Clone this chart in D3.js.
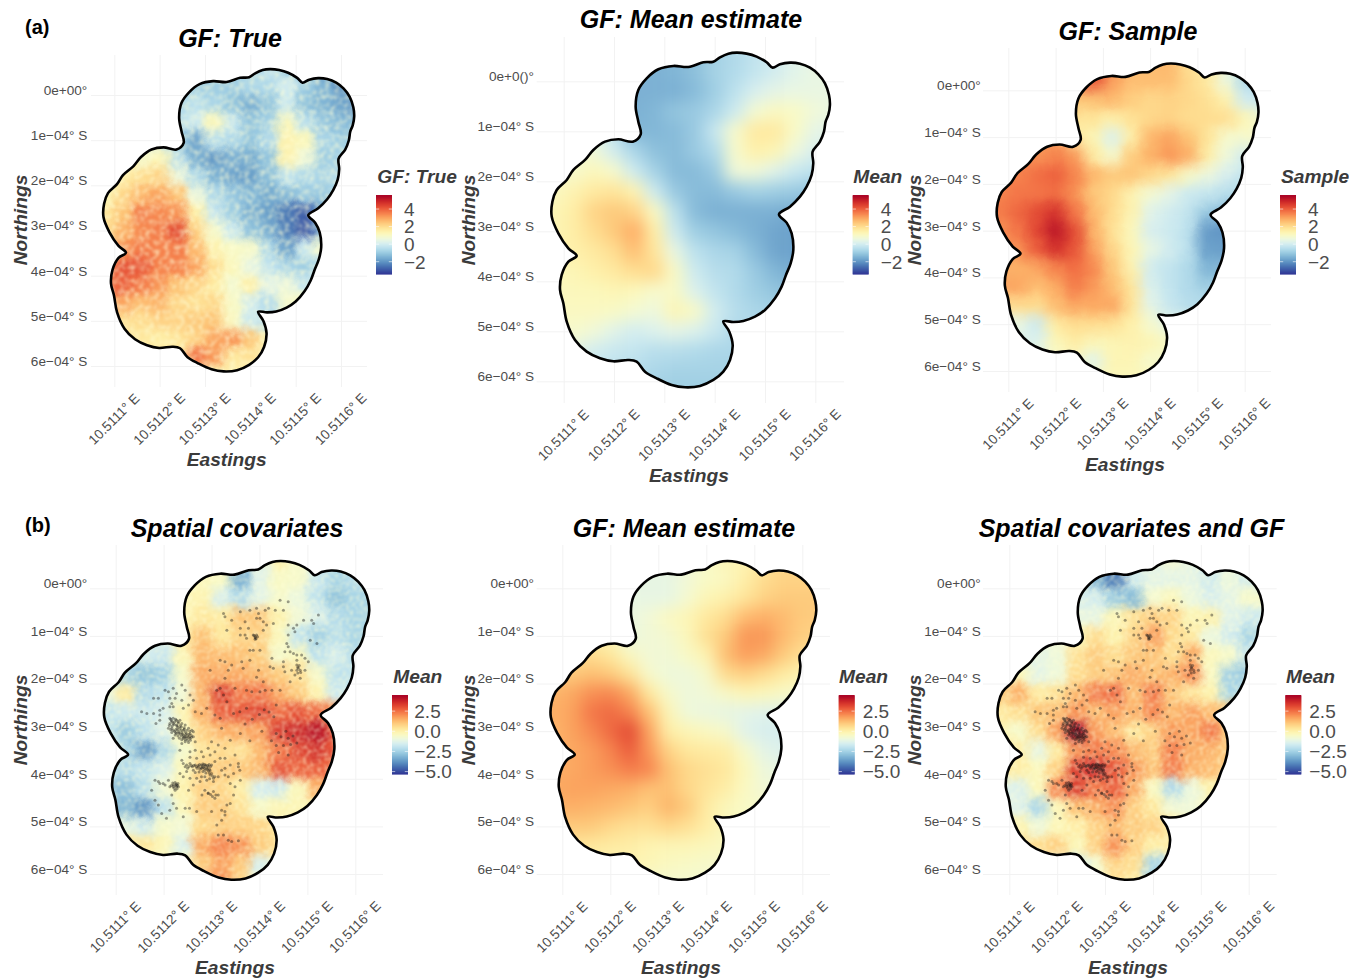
<!DOCTYPE html>
<html>
<head>
<meta charset="utf-8">
<script src="https://cdn.jsdelivr.net/npm/d3@7"></script>
<style>
body { margin: 0; background: #fff; }
svg text { font-family: "Liberation Sans", Arial, sans-serif; }
</style>
</head>
<body>
<script>
// all positions in units of 1e-4 degrees: lon = 10.511 + x*1e-4, lat = y*1e-4 S
var lonTicks = [1, 2, 3, 4, 5, 6];
var lonLabels = ["10.5111° E", "10.5112° E", "10.5113° E", "10.5114° E", "10.5115° E", "10.5116° E"];
var latTicks = [0, 1, 2, 3, 4, 5, 6];
var latLabels = ["0e+00°", "1e−04° S", "2e−04° S", "3e−04° S", "4e−04° S", "5e−04° S", "6e−04° S"];
var latLabelsGlitch = ["0e+0()°", "1e−04° S", "2e−04° S", "3e−04° S", "4e−04° S", "5e−04° S", "6e−04° S"];

var rangeA = [-3.4, 5.6];
var rangeB = [-5.3, 4.5];
var legendTicksA = [4, 2, 0, -2];
var legendLabelsA = ["4", "2", "0", "−2"];
var legendTicksB = [2.5, 0, -2.5, -5];
var legendLabelsB = ["2.5", "0.0", "−2.5", "−5.0"];

var boundary = [[3.974,-0.393],[4.106,-0.48],[4.272,-0.553],[4.437,-0.573],[4.636,-0.553],[4.834,-0.493],[5.033,-0.38],[5.152,-0.273],[5.298,-0.34],[5.497,-0.373],[5.695,-0.353],[5.894,-0.273],[6.06,-0.14],[6.192,0.04],[6.272,0.273],[6.291,0.473],[6.258,0.673],[6.205,0.807],[6.172,1.007],[6.093,1.207],[5.947,1.407],[5.96,1.64],[5.927,1.873],[5.828,2.107],[5.695,2.307],[5.497,2.507],[5.278,2.66],[5.43,2.827],[5.53,3.04],[5.563,3.373],[5.51,3.64],[5.417,3.873],[5.331,4.107],[5.199,4.34],[5.0,4.573],[4.801,4.707],[4.57,4.793],[4.371,4.813],[4.172,4.8],[4.291,5.007],[4.358,5.273],[4.305,5.573],[4.172,5.807],[3.974,5.973],[3.709,6.093],[3.411,6.12],[3.146,6.073],[2.848,5.94],[2.616,5.807],[2.45,5.607],[2.285,5.573],[1.987,5.6],[1.722,5.54],[1.457,5.407],[1.225,5.173],[1.06,4.807],[0.993,4.44],[0.927,4.173],[0.96,3.873],[1.093,3.607],[1.258,3.493],[1.093,3.34],[0.894,3.04],[0.762,2.707],[0.775,2.407],[0.861,2.173],[1.06,1.973],[1.192,1.773],[1.424,1.573],[1.589,1.373],[1.821,1.207],[2.086,1.16],[2.371,1.207],[2.53,1.06],[2.483,0.807],[2.43,0.507],[2.483,0.173],[2.649,-0.06],[2.881,-0.24],[3.179,-0.307],[3.477,-0.287],[3.775,-0.38]];

// raster cell centres
var gridLon = [0.8, 1.2, 1.6, 2.0, 2.4, 2.8, 3.2, 3.6, 4.0, 4.4, 4.8, 5.2, 5.6, 6.0, 6.4];
var gridLat = [-0.6, -0.2, 0.2, 0.6, 1.0, 1.4, 1.8, 2.2, 2.6, 3.0, 3.4, 3.8, 4.2, 4.6, 5.0, 5.4, 5.8, 6.2];

var gfTrue = [
 [-1,-1,-1,-1,-1,-1,-1,-1,-.8,-.3,-.9,-1.5,-2,-1.8,-1.8],
 [-1,-1,-1,-1,-.7,-.9,-.9,-.9,-.7,-.6,0,-.9,-1.4,-2,-1.8],
 [-1,-1,-1,-.7,-.7,-.4,-.7,-1.1,-1.5,-1.1,-.1,-1.1,-1.4,-1.7,-2.1],
 [0,0,0,-.4,-.4,-.1,1.2,-.2,-1.1,-.8,1.2,-.4,-1,-1.3,-1.3],
 [1,1,.8,-.4,-.9,-1.7,-.4,-.6,-1.1,-.6,1.4,1.2,-.7,-.9,-.9],
 [1.3,1.5,.9,1.3,-.5,-1.5,-1.9,-1.5,-1.6,-1.1,1.4,.7,-.9,-.8,-.8],
 [1.4,1.6,2,2.2,.6,-.6,-1.4,-1.7,-1.8,-1.2,-.3,-.6,-.7,-.4,-.4],
 [1.3,2.1,2.7,3,2.5,.6,-.6,-1,-1.3,-1.6,-1.3,-1,-1,-.7,-.7],
 [1.8,2.5,3.6,3.4,3.3,1.5,-.2,-.9,-1.5,-1.8,-2.4,-2.8,-1.9,-1.4,-1.4],
 [2,2.8,3.4,3.6,4.3,2.2,.9,-.1,-1.1,-1.5,-2.3,-2.9,-1.1,-1.1,-1.1],
 [3,3.3,3.6,3.5,3.6,2.7,1.4,1,.9,-.6,-1.7,-.2,.8,.8,.8],
 [3.3,4.2,4.1,3.5,3.5,3,2,1.2,.5,-.3,-.7,-.9,-.2,-.2,-.2],
 [3.8,4,3.6,3.2,2.5,2.2,1.6,.8,1.5,.4,.6,-.2,-.2,-.2,-.2],
 [3,3,2.6,2.8,2.1,1.9,2.1,1,0,-.5,.9,1,1,1,1],
 [1.9,1.9,2,2.2,2.2,2.4,2.5,1.1,-.1,-.4,-.2,.6,.6,.6,.6],
 [1.7,1.7,1.7,1.6,1.8,2.2,3,3.2,2.4,1.4,1.1,1.1,1.1,1.1,1.1],
 [1.6,1.6,1.6,1.6,1.6,3.7,3.2,1.7,1.9,1.5,1.5,1.5,1.5,1.5,1.5],
 [1.4,1.4,1.4,1.4,1.4,1.4,1.4,1.4,1.4,1.4,1.4,1.4,1.4,1.4,1.4]
];

var gfMeanA = [
 [-.8,-.8,-.8,-.8,-1.3,-1.4,-1.4,-1.2,-.8,-.6,-.3,0,.3,.5,.5],
 [-.8,-.8,-.8,-.8,-1.4,-1.5,-1.4,-1.2,-.8,-.6,-.3,0,.3,.5,.5],
 [-.8,-.8,-.8,-1.5,-1.5,-1.5,-1.5,-1.3,-.9,-.4,.1,.4,.5,.5,.5],
 [-.8,-.8,-.8,-1.5,-1.5,-1.4,-1.1,-1,-.7,-.1,.8,1.1,1,.7,.5],
 [.4,.4,.4,-.4,-1.4,-1.4,-1.3,-1,-.2,.9,1.7,1.7,1,.4,.3],
 [.9,.9,.7,0,-.7,-1.2,-1.3,-1,-.6,.9,1.5,1.3,.6,.1,.1],
 [.9,.9,1.2,.9,-.1,-.8,-1.3,-1.3,-1,.7,.7,.3,-.2,-.4,-.4],
 [1.1,1.4,1.7,1.8,1.4,-.1,-1,-1.3,-1.3,-1,-.8,-.9,-1,-1.1,-1.1],
 [1.3,1.6,2.2,2.4,2.2,1.1,-.4,-1.3,-1.5,-1.5,-1.5,-1.5,-1.6,-1.6,-1.6],
 [1.3,1.6,2,2.4,2.9,1.6,-.1,-.9,-1.1,-1.3,-1.5,-1.7,-1.8,-1.8,-1.8],
 [1.4,1.5,1.7,2,2.6,1.8,.5,-.4,-.7,-.8,-1.3,-1.7,-1.8,-1.8,-1.8],
 [1.2,1.3,1.5,1.7,2,2.1,1,-.1,-.5,-.6,-1,-1.4,-1.6,-1.6,-1.6],
 [1.1,1.2,1.2,1.3,1.2,.9,1,.2,-.3,-.6,-.9,-1.1,-1.2,-1.2,-1.2],
 [1.1,1.1,1.1,1,.8,.6,1.3,1,0,-.5,-.7,-.8,-.8,-.8,-.8],
 [.9,.9,.7,.3,0,.2,.4,.2,-.2,-.6,-.7,-.7,-.7,-.7,-.7],
 [.4,.4,0,-.2,-.3,-.5,-.5,-.6,-.7,-.7,-.7,-.7,-.7,-.7,-.7],
 [-.3,-.3,-.3,-.4,-.5,-.7,-.8,-.8,-.8,-.8,-.8,-.8,-.8,-.8,-.8],
 [-.9,-.9,-.9,-.9,-.9,-.9,-.9,-.9,-.9,-.9,-.9,-.9,-.9,-.9,-.9]
];

var gfSample = [
 [3,3,3,3,3.8,4.2,3.2,2.6,2.6,2.7,2,1.5,.6,-.6,-.6],
 [3,3,3,3,3.5,4.2,3.1,2.6,2.6,2.6,2.1,1.7,.6,-.6,-.6],
 [3,3,3,3,2.5,2.5,2.7,2.3,2.1,2.2,2.1,1.9,1.4,0,-.2],
 [2,2,2,2,1.8,1.8,1.5,1.9,2.1,2.2,2,2,2,1.3,.8],
 [3,3,3,3,1.6,1.3,.2,1.5,2.7,3,2.5,1.8,.9,.9,.9],
 [3.3,3.3,3.3,3.5,3.2,1.6,.9,2.3,2.8,3.2,2.9,1.6,.7,0,0],
 [3.5,3.5,3.8,4,3.5,2.7,2.4,2.5,2.1,1.8,1,.6,.1,-.3,-.3],
 [3.5,3.7,3.7,3.8,3.3,2.4,2.1,1.4,.8,.4,-.1,-.2,-.5,-.5,-.5],
 [3.6,3.9,4.3,4.7,3.7,2.7,2,1.4,.3,0,-.3,-1,-1.2,-1.2,-1.2],
 [3.3,3.7,4.4,5.2,4.3,2.8,1.9,1.2,.1,-.1,-.4,-1.9,-2,-2,-2],
 [3.3,3.3,4,4.7,4.2,3.1,2.1,1.3,.5,0,-.4,-1.8,-1.8,-1.8,-1.8],
 [2.8,2.8,3,3.5,3.8,3.4,2.4,1.4,0,-.3,-.6,-1.4,-1.4,-1.4,-1.4],
 [3,3,2.6,2.9,3.6,3.2,2.6,1.8,.2,-.3,-.6,-.9,-.9,-.9,-.9],
 [2,2,2,2.6,3,2.9,3,1.8,.4,-.2,-.5,-.5,-.5,-.5,-.5],
 [.5,.5,-.1,1.6,2,2,1.9,1.5,.9,.4,.4,.4,.4,.4,.4],
 [.2,.2,.2,1.2,1.6,1.2,1.3,1.4,1.3,1,1,1,1,1,1],
 [.9,.9,.9,.9,.9,.3,1.3,1.3,.9,.9,.9,.9,.9,.9,.9],
 [1.2,1.2,1.2,1.2,1.2,1.2,1.2,1.2,1.2,1.2,1.2,1.2,1.2,1.2,1.2]
];

var covariates = [
 [-1,-1,-1,-1,-.5,-.3,-.3,-3,-1.3,0,-.6,-1.8,-2.3,-2,-2],
 [-1,-1,-1,-.5,-.3,-.3,-.5,-3.2,-1.3,-.5,-.6,-1.8,-2.4,-2.2,-2.2],
 [-1,-1,-1,-.5,-.2,-.1,-1.5,-2.2,-1.2,-.6,-1,-2,-2.8,-2.4,-2.4],
 [-1,-1,-1,-.5,-.2,.3,.2,1.1,1.1,0,-.8,-1.4,-2.2,-2.4,-2.4],
 [-1.4,-1.4,-1.4,-1.2,.3,1.2,.3,.8,.9,-.3,-1.9,-2.5,-2.1,-2.4,-2.4],
 [-1.8,-1.8,-1.6,-1.8,-.2,1.4,1.3,1.2,1,-.6,-.3,-2,-1.5,-2.2,-2.2],
 [-2.2,-2.4,-2.8,-2.5,-.6,1.6,1.6,1.6,1.4,1,.6,-.6,-2,-2,-2],
 [-1,.2,-2.2,-2,-.8,1.4,3.3,2.4,2.5,1.7,1,-.1,-1.7,-1.7,-1.7],
 [-1.9,-1.7,-1.8,-1.5,-.1,1.5,2.8,3,3.2,2.6,3,2.6,2,2,2],
 [-1.9,-2.6,-2,-1.3,-.3,.9,1.5,1.6,1.8,3.4,3.7,4.1,3,3,3],
 [-2.2,-2.4,-3.6,-2.3,-.6,.4,.7,.5,1.4,2.4,3.2,3.5,3,3,3],
 [-2.2,-2.2,-1.9,-1.4,-.3,.8,1,1.1,1.4,3,2.7,2.8,2.6,2.6,2.6],
 [-2.9,-2.9,-2.1,-.8,0,.9,.8,.1,-1.5,-1.7,-.3,1.5,1.5,1.5,1.5],
 [-3.1,-3.1,-3.7,-2,-.3,1,1,.5,-.6,-.2,-.2,-.2,-.2,-.2,-.2],
 [-1.1,-1.1,-1.7,-.6,-.8,.7,1,.9,.8,.3,.3,.3,.3,.3,.3],
 [.3,.3,.3,-.2,-1.4,1.6,2.2,2,1,.5,.5,.5,.5,.5,.5],
 [-.5,-.5,-.5,-.5,-.5,1,1.8,1.1,-1.5,-.8,-.8,-.8,-.8,-.8,-.8],
 [1,1,1,1,1,2.1,2.1,.7,-.8,-.8,-.8,-.8,-.8,-.8,-.8]
];

var gfMeanB = [
 [-1.1,-1.1,-1.1,-1.1,-1.1,-1.1,-1.1,-.8,-.5,-.2,-.1,.3,.8,.8,.8],
 [-1.1,-1.1,-1.1,-1.1,-1.1,-1.1,-1.1,-.8,-.5,-.4,.1,.6,.8,.8,.8],
 [-1.1,-1.1,-1.1,-1.1,-1.1,-1.1,-1.1,-.7,-.2,0,.4,.8,1,1,1],
 [-1,-1,-1,-1,-1,-.8,-.4,-.2,.3,.6,1.3,1.5,1.3,1,1],
 [0,0,0,-.2,-1,-.8,-.7,-.3,.5,1,1.9,1.9,1.3,.9,.8],
 [.4,.5,.6,.3,-.4,-.8,-.8,-.5,-.1,1.2,1.8,1.6,1,.5,.5],
 [.9,1,1.2,1,.4,-.6,-.9,-.9,-.6,.6,.9,.6,.2,-.1,-.1],
 [1.4,1.6,2,2.1,1.6,.3,-.6,-.9,-.8,-.5,-.2,-.3,-.5,-.6,-.6],
 [1.5,1.7,2.4,2.6,2.2,1.2,-.2,-.9,-1,-1.1,-1.2,-1.3,-1.3,-1.3,-1.3],
 [1.4,1.7,2.1,2.6,3.1,1.7,.1,-.2,-.4,-.6,-1.3,-1.5,-1.5,-1.5,-1.5],
 [1.4,1.6,1.8,2.2,2.8,1.9,.8,.3,.2,.1,-.6,-1.2,-1.4,-1.4,-1.4],
 [1.5,1.6,1.8,2,2.3,2.2,1.2,.7,.5,.3,-.3,-.9,-1.1,-1.1,-1.1],
 [1.6,1.7,1.7,1.6,1.5,1.2,1.2,.7,.4,.1,-.4,-.8,-.8,-.8,-.8],
 [1.4,1.5,1.4,1.3,1.1,.9,1.4,1,.2,-.3,-.5,-.6,-.6,-.6,-.6],
 [1,1,1,.7,.5,.5,.7,.5,.1,-.3,-.4,-.4,-.4,-.4,-.4],
 [.4,.4,.3,.2,.1,-.1,-.2,-.2,-.3,-.4,-.4,-.4,-.4,-.4,-.4],
 [-.1,-.1,-.1,-.1,-.1,-.2,-.4,-.5,-.6,-.6,-.6,-.6,-.6,-.6,-.6],
 [-.7,-.7,-.7,-.7,-.7,-.7,-.7,-.7,-.7,-.7,-.7,-.7,-.7,-.7,-.7]
];

var covariatesGf = [
 [-1,-1,-1,-1,-1.5,-3.2,-3.9,-1.6,-1.2,-.8,-1.2,-1.7,-1,-1.7,-1.7],
 [-1,-1,-1,-1,-1.5,-3.3,-4.1,-1.7,-1.2,-1.2,-1.2,-1.7,-1,-1.7,-1.7],
 [-1,-1,-1,-1,-1.5,-1.6,-2.6,-3,-.7,-.3,-1,-1.5,-1.2,-.6,-.6],
 [-1,-1,-1,-1,-1.1,-1.1,-.2,.5,1,.8,-.2,0,-1.3,-1.7,-1.7],
 [-1,-1,-1,-.8,-.3,.6,0,.8,1.8,.7,.3,-1,-1.6,-2.4,-2.4],
 [-1.2,-1.2,-1.2,-.9,.5,1,.6,1.1,1.2,.6,1.6,-.3,-.6,-1.8,-1.8],
 [-.3,-.3,-1.2,-.9,.6,1,1.2,1.6,1.2,1.5,2.1,-.4,-2.5,-2.7,-2.7],
 [1,1.5,.2,.5,1.4,2.4,2.6,1.3,2.4,1.2,.4,0,-2.4,-2.4,-2.4],
 [.3,.5,1.1,1.3,2,1.3,1.8,1.5,2.2,1.4,1.8,1.3,1,1,1],
 [-.1,-.6,.6,1.8,4.3,1.9,1.3,.3,.9,1.9,1.7,2.4,1,1,1],
 [.1,.1,-1.1,.3,2,2.4,2.2,1.4,1,2.3,1.6,1.5,1,1,1],
 [.3,.1,-.3,.9,3.3,3.7,3,2,1.2,2.4,1.5,1.3,1,1,1],
 [-1.4,-1.4,-.3,2.2,3.3,2.4,2.8,1.6,-.4,-2.2,-1,0,0,0,0],
 [-1.3,-1.3,-2.3,-.2,1.2,1.6,2.1,.9,.3,-.8,-.9,-.5,-.5,-.5,-.5],
 [-.1,-.1,-.9,-.2,.1,.9,1.4,1,.9,.2,.2,.2,.2,.2,.2],
 [.6,.6,.6,.9,-.2,.9,2,.9,.1,.1,.1,.1,.1,.1,.1],
 [-1,-1,-1,-1,-1.6,-.7,.8,.6,-2.4,-2,-2,-2,-2,-2,-2],
 [-.3,-.3,-.3,-.3,-.3,-.3,.5,.2,-2,-2,-2,-2,-2,-2,-2]
];

var samplePoints = [
 [2.38,2.03],[2.2,2.1],[2.1,2.17],[2.03,2.14],[2.27,2.21],[2.45,2.14],[2.55,2.24],[1.89,2.31],[1.79,2.31],[2.13,2.31],[2.24,2.31],[2.38,2.35],[2.62,2.35],[1.99,2.52],[1.92,2.56],[1.54,2.59],[1.65,2.63],[1.79,2.63],[1.92,2.66],[1.84,2.84],[1.92,2.77],[2.17,2.42],[2.13,2.49],[2.2,2.49],[2.41,2.52],[2.52,2.45],[2.66,2.59],[2.9,2.52],[2.79,2.63],[3.07,2.66],[3.18,2.73],[3.21,2.94],[3.46,2.63],[3.59,2.59],[3.73,2.52],[3.32,2.38],[3.25,2.24],
 [2.13,2.73],[2.2,2.73],[2.27,2.77],[2.34,2.77],[2.13,2.84],[2.2,2.84],[2.27,2.87],[2.38,2.84],[2.45,2.87],[2.1,2.94],[2.17,2.94],[2.26,2.96],[2.34,2.94],[2.41,2.98],[2.52,2.94],[2.59,2.98],[2.17,3.03],[2.27,3.05],[2.34,3.06],[2.41,3.08],[2.48,3.05],[2.55,3.05],[2.62,3.01],[2.33,3.15],[2.41,3.15],[2.48,3.15],[2.55,3.15],[2.62,3.12],[2.45,3.22],[2.52,3.24],[2.38,3.26],[2.2,3.15],[2.66,3.22],
 [2.16,2.78],[2.23,2.8],[2.31,2.83],[2.18,2.89],[2.3,2.92],[2.37,2.91],[2.43,2.93],[2.23,3],[2.31,3.01],[2.38,3.03],[2.45,3.02],[2.51,3.1],[2.44,3.11],[2.37,3.1],[2.58,3.09],
 [2.15,2.75],[2.18,2.8],[2.25,2.75],[2.3,2.8],[2.12,2.88],[2.22,2.86],[2.28,2.89],[2.35,2.88],[2.15,2.97],[2.2,2.98],[2.29,2.97],[2.36,2.98],[2.43,2.96],[2.49,2.98],[2.55,3],[2.25,3.03],[2.32,3.04],[2.39,3.06],[2.46,3.07],[2.53,3.07],[2.42,3.13],[2.47,3.12],[2.53,3.13],[2.58,3.13],[2.38,3.18],[2.45,3.18],[2.5,3.19],[2.56,3.19],[2.3,3.1],[2.24,3.08],
 [2.41,3.68],[2.48,3.71],[2.55,3.68],[2.66,3.71],[2.73,3.75],[2.79,3.71],[2.83,3.76],[2.88,3.71],[2.93,3.75],[3,3.71],[2.76,3.8],[2.86,3.82],[2.93,3.83],[3,3.89],[3.07,3.96],[2.62,3.82],[2.48,3.85],[2.34,3.89],[2.41,3.96],[2.55,3.99],[2.69,3.99],[2.79,3.96],[2.9,4.03],[3.04,4.06],[3.14,3.96],[3.21,3.82],[3.28,3.78],[3.39,3.71],[3.56,3.75],[3.59,3.82],[3.35,3.96],[3.46,3.89],
 [2.81,3.73],[2.85,3.7],[2.9,3.78],[2.95,3.7],[2.78,3.77],[2.7,3.78],[2.6,3.75],[2.96,3.8],
 [2.75,3.7],[2.82,3.69],[2.87,3.73],[2.92,3.72],[2.98,3.74],[2.8,3.78],[2.85,3.78],[2.91,3.8],[2.97,3.83],[2.72,3.72],[2.68,3.75],[2.63,3.72],[2.58,3.72],[2.53,3.74],[2.5,3.78],[2.45,3.75],[2.95,3.88],[2.88,3.88],[2.82,3.85],[2.74,3.86],[2.66,3.87],[3.02,3.94],[2.96,4],
 [3,3.22],[2.93,3.36],[2.79,3.43],[2.66,3.4],[2.55,3.43],[2.34,3.4],[3.07,3.43],[3.14,3.29],[3.28,3.36],[3.39,3.19],[2.97,3.5],[2.83,3.54],[2.69,3.57],[2.55,3.55],[3.18,3.57],[3.28,3.57],[3.49,3.5],[3.56,3.68],[2.38,3.61],[3.07,3.64],
 [2.27,4.13],[2.2,4.17],[2.31,4.17],[2.24,4.08],[2.1,4.03],[1.99,4.1],[1.89,4.06],[2.26,4.11],[2.22,4.2],[2.29,4.14],[2.3,4.1],[2.24,4.14],[2.19,4.09],[2.16,4.14],[2.28,4.21],
 [1.82,4.03],[1.92,4.1],[2.03,4.13],[2.13,4.17],[2.2,4.13],[2.27,4.17],[2.24,4.24],[2.17,4.34],[1.75,4.24],[1.82,4.45],[1.89,4.55],[1.96,4.73],[2.06,4.83],[2.2,4.52],[2.13,4.66],[2.27,4.62],[2.45,4.62],[2.54,4.62],[2.69,4.69],[2.41,4.8],[2.52,4.24],[2.62,4.13],[2.76,4.06],[2.8,4.34],[2.86,4.24],[2.93,4.31],[3.04,4.27],[3.14,4.34],[3.07,4.41],[3,4.69],[3.21,4.66],[3.28,4.69],[3.32,4.55],[3.39,4.52],[3.28,4.76],[3.21,4.87],[3.11,4.97],[3.14,5.18],[3.25,5.18],[3.35,5.29],[3.42,5.32],[3.56,5.3],[3.46,4.34],[3.49,4.17],[3.39,4.1],[3.6,4.03],[3.28,3.92],[2.97,3.92],[3.04,3.99],[2.86,3.96],[2.93,4.3],[2.98,4.33],[3.02,4.37],[3.09,4.34],
 [3.25,.53],[3.28,.6],[3.42,.67],[3.6,.49],[3.8,.46],[3.94,.42],[3.98,.53],[3.94,.63],[4.01,.63],[4.12,.46],[4.19,.42],[4.33,.46],[4.43,.25],[4.6,.28],[4.5,.46],[4.08,.7],[4.15,.77],[4.29,.74],[3.7,.7],[3.77,.84],[3.6,.84],[3.32,.88],[3.6,.98],[3.7,.98],[3.87,.98],[3.91,1.02],[3.94,.98],[3.91,1.07],[4.08,.88],[3.73,1.05],[4.01,1.3],[3.87,1.3],[3.8,1.3],[3.18,1.51],[3.28,1.54],[3.42,1.61],[3.63,1.54],[3.8,1.51],[3.66,1.68],[4.22,1.65],[4.29,1.68],[4.5,1.65],[4.53,1.75],[3.98,1.72],[2.97,1.72],[3.35,1.72],[3.28,1.89],[3.94,1.87],[4.08,1.96],[4.26,2.14],[4.43,2.14],[3.11,2.14],[3.18,2.1],[3.73,2.14],[3.84,2.17],[4.01,2.17],[4.12,2.14],[3.49,2.1],[3.91,1.04],[3.89,.99],[3.96,1.02],[3.93,1.06],
 [4.6,.77],[4.71,.84],[4.78,.77],[4.74,.91],[4.6,.98],[4.92,.67],[5.09,.67],[5.23,.56],[5.13,.74],[5.06,1.09],[5.2,1.16],[4.57,1.16],[4.6,1.23],[4.64,1.33],[4.71,1.37],[4.53,1.33],[4.78,1.4],[4.88,1.4],[4.95,1.47],[4.78,1.51],[4.78,1.61],[4.81,1.68],[4.85,1.72],[4.78,1.72],[4.74,1.82],[4.95,1.72],[5.02,1.54],[4.67,1.72],[4.5,1.54],[4.26,1.47],[4.64,1.96],[4.85,1.89],[4.8,1.66],[4.83,1.62],[4.86,1.77],[4.8,1.78],
 [4.35,3.05],[4.45,3.12],[4.55,3],[4.6,3.15],[4.7,3.1],[4.65,3.28],[4.5,3.3],[4.35,3.3],[4.25,3.2],[4.78,3.25],[4.4,3.45],[4.6,3.5],[4.2,2.6],[4.3,2.7],[4.1,2.55],[4,2.65],[4.35,2.45],[3.85,2.75],[3.7,2.85],[3.6,3.05],[3.8,3.2],[4.05,3]
];

var width = 1349, height = 978;
var svg = d3.select("body").append("svg").attr("width", width).attr("height", height);
var defs = svg.append("defs");

// x1,x6: pixel of lon ticks 1 and 6. y0,y6: pixel of lat ticks 0 and 6. l,r,t,b: panel edges
var panels = [
 {id:"a1", title:"GF: True", tx:230, ty:46.5, values:gfTrue, range:rangeA, x1:114.3, x6:341, y0:95, y6:366, l:91, r:367, t:55, b:387, yLab:87.3, xt:226.7, xb:465.7, nx:26.7, ny:220, cap:"GF: True", lx:376, capx:377.3, capy:183.3, ly0:195, ly1:274, labx:404, blur:4, warp:9, grain:0.2, lat:latLabels},
 {id:"a2", title:"GF: Mean estimate", tx:691, ty:28, values:gfMeanA, range:rangeA, x1:563.7, x6:815.3, y0:81.3, y6:381.3, l:536.7, r:844, t:37, b:403, yLab:534, xt:689, xb:482, nx:475, ny:220, cap:"Mean", lx:852.7, capx:853.3, capy:183.3, ly0:195, ly1:274, labx:880.7, blur:8, warp:0, grain:0, lat:latLabelsGlitch},
 {id:"a3", title:"GF: Sample", tx:1128, ty:40, values:gfSample, range:rangeA, x1:1008.3, x6:1244.7, y0:90.3, y6:371, l:983, r:1271, t:48, b:392, yLab:980.7, xt:1125, xb:470.7, nx:920.7, ny:220, cap:"Sample", lx:1280, capx:1281, capy:183.3, ly0:195, ly1:274, labx:1308, blur:6.5, warp:5, grain:0, lat:latLabels},
 {id:"b1", title:"Spatial covariates", tx:237, ty:536.7, values:covariates, range:rangeB, x1:115.7, x6:355.3, y0:588.3, y6:874, l:90, r:383, t:545, b:895, yLab:87.3, xt:235, xb:974, nx:27, ny:720, cap:"Mean", lx:392, capx:393.3, capy:683.3, ly0:695, ly1:774, labx:414.3, blur:4, warp:9, grain:0.28, lat:latLabels, dots:true},
 {id:"b2", title:"GF: Mean estimate", tx:684, ty:536.7, values:gfMeanB, range:rangeB, x1:562.3, x6:802.3, y0:588.3, y6:874, l:536.7, r:830, t:545, b:895, yLab:534, xt:681, xb:974, nx:475, ny:720, cap:"Mean", lx:838.7, capx:839, capy:683.3, ly0:695, ly1:774, labx:862.7, blur:8, warp:0, grain:0, lat:latLabels},
 {id:"b3", title:"Spatial covariates and GF", tx:1131.5, ty:536.7, values:covariatesGf, range:rangeB, x1:1009.3, x6:1248.7, y0:588.3, y6:874, l:983, r:1276.7, t:545, b:895, yLab:980.7, xt:1128, xb:974, nx:920.7, ny:720, cap:"Mean", lx:1285.3, capx:1286, capy:683.3, ly0:695, ly1:774, labx:1309.3, blur:4, warp:9, grain:0.28, lat:latLabels, dots:true}
];

panels.forEach(drawPanel);

svg.append("text").attr("x", 25).attr("y", 33.5).style("font-size", "20px").style("font-weight", "bold").text("(a)");
svg.append("text").attr("x", 25).attr("y", 532).style("font-size", "20px").style("font-weight", "bold").text("(b)");

function drawPanel(p) {
	var x = d3.scaleLinear().domain([1, 6]).range([p.x1, p.x6]);
	var y = d3.scaleLinear().domain([0, 6]).range([p.y0, p.y6]);
	var color = d3.scaleSequential(function(t){ return d3.interpolateRdYlBu(1 - t); }).domain(p.range);

	var g = svg.append("g").attr("class", "panel");

	// axes double as the panel grid
	var xAxis = d3.axisBottom(x).tickValues(lonTicks).tickSize(p.t - p.b)
		.tickFormat(function(d, i){ return lonLabels[i]; });
	var yAxis = d3.axisLeft(y).tickValues(latTicks).tickSize(p.l - p.r)
		.tickFormat(function(d, i){ return p.lat[i]; });

	var gx = g.append("g").attr("transform", "translate(0," + p.b + ")").call(xAxis);
	gx.select(".domain").remove();
	gx.selectAll("line").attr("stroke", "#f2f2f2");
	gx.selectAll("text")
		.attr("y", 0).attr("dy", "0.35em").attr("text-anchor", "middle")
		.attr("transform", "translate(-1,32) rotate(-45)")
		.attr("fill", "#4d4d4d").style("font-size", "13.6px");

	var gy = g.append("g").attr("transform", "translate(" + p.l + ",0)").call(yAxis);
	gy.select(".domain").remove();
	gy.selectAll("line").attr("stroke", "#f2f2f2");
	gy.selectAll("text")
		.attr("x", p.yLab - p.l).attr("y", -5).attr("text-anchor", "end")
		.attr("fill", "#4d4d4d").style("font-size", "13.6px");

	// raster, clipped to the study area
	var line = d3.line()
		.x(function(d){ return x(d[0]); })
		.y(function(d){ return y(d[1]); })
		.curve(d3.curveCatmullRomClosed.alpha(0.5));

	defs.append("clipPath").attr("id", "clip-" + p.id).append("path").attr("d", line(boundary));

	var filter = defs.append("filter").attr("id", "soft-" + p.id)
		.attr("filterUnits", "userSpaceOnUse")
		.attr("x", p.l - 40).attr("y", p.t - 40)
		.attr("width", p.r - p.l + 80).attr("height", p.b - p.t + 80)
		.attr("color-interpolation-filters", "sRGB");
	filter.append("feGaussianBlur").attr("in", "SourceGraphic").attr("stdDeviation", p.blur).attr("result", "smooth");
	if (p.warp > 0) {
		filter.append("feTurbulence").attr("type", "fractalNoise").attr("baseFrequency", 0.09)
			.attr("numOctaves", 2).attr("seed", 4).attr("result", "warpNoise");
		filter.append("feDisplacementMap").attr("in", "smooth").attr("in2", "warpNoise")
			.attr("scale", p.warp).attr("xChannelSelector", "R").attr("yChannelSelector", "G").attr("result", "warped");
	}
	if (p.grain > 0) {
		// pale speckle, texture only
		filter.append("feTurbulence").attr("type", "fractalNoise").attr("baseFrequency", p.grain)
			.attr("numOctaves", 2).attr("seed", 9).attr("result", "grainNoise");
		filter.append("feColorMatrix").attr("in", "grainNoise").attr("type", "matrix")
			.attr("values", "0 0 0 0 1  0 0 0 0 1  0 0 0 0 0.85  1.5 0 0 0 -0.62").attr("result", "speckleRaw");
		filter.append("feGaussianBlur").attr("in", "speckleRaw").attr("stdDeviation", 1).attr("result", "speckle");
		var merge = filter.append("feMerge");
		merge.append("feMergeNode").attr("in", "warped");
		merge.append("feMergeNode").attr("in", "speckle");
	}

	var half = 0.2, pad = 0.6;
	var cells = [];
	p.values.forEach(function(row, j) {
		row.forEach(function(v, i) {
			cells.push({x0: gridLon[i] - half - (i === 0 ? pad : 0),
				x1: gridLon[i] + half + (i === gridLon.length - 1 ? pad : 0),
				y0: gridLat[j] - half - (j === 0 ? pad : 0),
				y1: gridLat[j] + half + (j === gridLat.length - 1 ? pad : 0),
				v: v});
		});
	});

	g.append("g").attr("clip-path", "url(#clip-" + p.id + ")")
		.append("g").attr("filter", "url(#soft-" + p.id + ")")
		.selectAll("rect").data(cells).enter().append("rect")
		.attr("x", function(d){ return x(d.x0); })
		.attr("y", function(d){ return y(d.y0); })
		.attr("width", function(d){ return x(d.x1) - x(d.x0) + 0.5; })
		.attr("height", function(d){ return y(d.y1) - y(d.y0) + 0.5; })
		.attr("fill", function(d){ return color(d.v); });

	if (p.dots) {
		g.append("g").selectAll("circle").data(samplePoints).enter().append("circle")
			.attr("cx", function(d){ return x(d[0]); })
			.attr("cy", function(d){ return y(d[1]); })
			.attr("r", 1.5)
			.attr("fill", "#1a1a1a")
			.attr("opacity", 0.42);
	}

	g.append("path").attr("d", line(boundary))
		.attr("fill", "none").attr("stroke", "#000").attr("stroke-width", 2.6).attr("stroke-linejoin", "round");

	// titles
	g.append("text").attr("x", p.tx).attr("y", p.ty).attr("text-anchor", "middle")
		.style("font-size", "25px").style("font-weight", "bold").style("font-style", "italic").text(p.title);
	g.append("text").attr("x", p.xt).attr("y", p.xb).attr("text-anchor", "middle").attr("fill", "#3b3b3b")
		.style("font-size", "19.2px").style("font-weight", "bold").style("font-style", "italic").text("Eastings");
	g.append("text").attr("text-anchor", "middle").attr("fill", "#3b3b3b")
		.attr("transform", "translate(" + p.nx + "," + p.ny + ")rotate(-90)")
		.style("font-size", "19.2px").style("font-weight", "bold").style("font-style", "italic").text("Northings");

	// legend
	var legendY = d3.scaleLinear().domain(p.range).range([p.ly1, p.ly0]);
	var isA = p.range === rangeA;
	var legendTicks = isA ? legendTicksA : legendTicksB;
	var legendLabels = isA ? legendLabelsA : legendLabelsB;
	var barW = 16;
	var legend = g.append("g");
	legend.selectAll("rect").data(d3.range(p.range[0], p.range[1], (p.range[1] - p.range[0]) / 79)).enter().append("rect")
		.attr("x", p.lx).attr("width", barW)
		.attr("y", function(d){ return legendY(d) - 1; }).attr("height", 1.6)
		.attr("fill", function(d){ return color(d); });
	legend.selectAll("line.left").data(legendTicks).enter().append("line")
		.attr("x1", p.lx).attr("x2", p.lx + 3.2)
		.attr("y1", legendY).attr("y2", legendY).attr("stroke", "#fff").attr("stroke-width", 0.6);
	legend.selectAll("line.right").data(legendTicks).enter().append("line")
		.attr("x1", p.lx + barW - 3.2).attr("x2", p.lx + barW)
		.attr("y1", legendY).attr("y2", legendY).attr("stroke", "#fff").attr("stroke-width", 0.6);
	legend.selectAll("text.lab").data(legendTicks).enter().append("text")
		.attr("x", p.labx).attr("y", legendY).attr("dy", "0.36em").attr("fill", "#4d4d4d")
		.style("font-size", "19px")
		.text(function(d, i){ return legendLabels[i]; });
	legend.append("text").attr("x", p.capx).attr("y", p.capy).attr("fill", "#3b3b3b")
		.style("font-size", "19.2px").style("font-weight", "bold").style("font-style", "italic").text(p.cap);
}
</script>
</body>
</html>
